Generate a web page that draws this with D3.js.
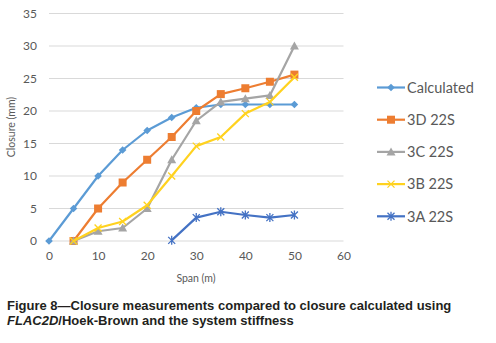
<!DOCTYPE html>
<html>
<head>
<meta charset="utf-8">
<script src="https://cdn.jsdelivr.net/npm/d3@7"></script>
<style>
  body { margin: 0; background: #fff; }
  svg { display: block; }
</style>
</head>
<body>
<div id="chart"></div>
<script>
/* DATA */
const seriesNames = ["Calculated", "3D 22S", "3C 22S", "3B 22S", "3A 22S"];
const calculatedSpan = [0, 5, 10, 15, 20, 25, 30, 35, 40, 45, 50];
const calculatedClosure = [0, 5, 10, 14, 17, 19, 20.5, 21, 21, 21, 21];
const span3D = [5, 10, 15, 20, 25, 30, 35, 40, 45, 50];
const closure3D = [0, 5, 9, 12.5, 16, 20, 22.6, 23.5, 24.5, 25.6];
const span3C = [5, 10, 15, 20, 25, 30, 35, 40, 45, 50];
const closure3C = [0, 1.5, 2, 5, 12.5, 18.5, 21.4, 21.9, 22.4, 30];
const span3B = [5, 10, 15, 20, 25, 30, 35, 40, 45, 50];
const closure3B = [0, 2, 3, 5.5, 10, 14.6, 16, 19.6, 21.4, 25.2];
const span3A = [25, 30, 35, 40, 45, 50];
const closure3A = [0.1, 3.6, 4.5, 4, 3.6, 4];
const xTicks = [0, 10, 20, 30, 40, 50, 60];
const yTicks = [0, 5, 10, 15, 20, 25, 30, 35];

const width = 496, height = 343;
const font = "Lato, 'Open Sans', sans-serif";

const series = [
  { name: seriesNames[0], xs: calculatedSpan, ys: calculatedClosure, color: "#5B9BD5", marker: "diamond" },
  { name: seriesNames[1], xs: span3D, ys: closure3D, color: "#ED7D31", marker: "square" },
  { name: seriesNames[2], xs: span3C, ys: closure3C, color: "#A5A5A5", marker: "triangle" },
  { name: seriesNames[3], xs: span3B, ys: closure3B, color: "#FFD21F", marker: "x" },
  { name: seriesNames[4], xs: span3A, ys: closure3A, color: "#4472C4", marker: "star" }
];

const svg = d3.select("#chart").append("svg")
  .attr("width", width)
  .attr("height", height);

const xScale = d3.scaleLinear().domain([0, 60]).range([49, 343.5]);
const yScale = d3.scaleLinear().domain([0, 35]).range([241, 13.5]);

// gridlines
svg.append("g")
  .selectAll("line")
  .data(yTicks)
  .join("line")
  .attr("x1", xScale(0))
  .attr("x2", xScale(60))
  .attr("y1", d => yScale(d))
  .attr("y2", d => yScale(d))
  .attr("stroke", "#D9D9D9")
  .attr("stroke-width", 1);

// axes (labels only)
const xAxis = d3.axisBottom(xScale).tickValues(xTicks).tickSize(0).tickPadding(10);
const yAxis = d3.axisLeft(yScale).tickValues(yTicks).tickSize(0).tickPadding(12);

const xAxisGroup = svg.append("g")
  .attr("transform", `translate(0,${yScale(0)})`)
  .call(xAxis);
const yAxisGroup = svg.append("g")
  .attr("transform", `translate(${xScale(0)},0)`)
  .call(yAxis);

[xAxisGroup, yAxisGroup].forEach(g => {
  g.select(".domain").remove();
  g.selectAll("text")
    .attr("font-family", font)
    .attr("font-size", 12)
    .attr("fill", "#595959");
});

// axis titles
svg.append("text")
  .attr("x", 196)
  .attr("y", 282)
  .attr("text-anchor", "middle")
  .attr("font-family", font)
  .attr("font-size", 10.5)
  .attr("fill", "#595959")
  .text("Span (m)");

svg.append("text")
  .attr("transform", `translate(15,127) rotate(-90)`)
  .attr("text-anchor", "middle")
  .attr("font-family", font)
  .attr("font-size", 10.5)
  .attr("fill", "#595959")
  .text("Closure (mm)");

// marker drawing
function drawMarker(g, type, color) {
  if (type === "diamond") {
    g.append("path").attr("d", "M0,-3.8L3.8,0L0,3.8L-3.8,0Z").attr("fill", color);
  } else if (type === "square") {
    g.append("rect").attr("x", -4).attr("y", -4).attr("width", 8).attr("height", 8).attr("fill", color);
  } else if (type === "triangle") {
    g.append("path").attr("d", "M0,-4.5L4.5,3.5L-4.5,3.5Z").attr("fill", color);
  } else if (type === "x") {
    g.append("path").attr("d", "M-3.5,-3.5L3.5,3.5M-3.5,3.5L3.5,-3.5")
      .attr("stroke", color).attr("stroke-width", 1.3).attr("fill", "none");
  } else if (type === "star") {
    g.append("path").attr("d", "M-3.5,-3.5L3.5,3.5M-3.5,3.5L3.5,-3.5M0,-4.5L0,4.5")
      .attr("stroke", color).attr("stroke-width", 1.3).attr("fill", "none");
  }
}

const line = d3.line()
  .x(d => xScale(d[0]))
  .y(d => yScale(d[1]));

series.forEach(s => {
  const pts = s.xs.map((x, i) => [x, s.ys[i]]);
  const g = svg.append("g");
  g.append("path")
    .datum(pts)
    .attr("d", line)
    .attr("fill", "none")
    .attr("stroke", s.color)
    .attr("stroke-width", 2.2)
    .attr("stroke-linejoin", "round");
  g.selectAll("g.pt")
    .data(pts)
    .join("g")
    .attr("class", "pt")
    .attr("transform", d => `translate(${xScale(d[0])},${yScale(d[1])})`)
    .each(function () { drawMarker(d3.select(this), s.marker, s.color); });
});

// legend
const legend = svg.append("g");
const legendItems = legend.selectAll("g")
  .data(series)
  .join("g")
  .attr("transform", (d, i) => `translate(377,${87.5 + i * 32.2})`);

legendItems.append("line")
  .attr("x1", 0).attr("x2", 28)
  .attr("stroke", d => d.color)
  .attr("stroke-width", 2.2);

legendItems.append("g")
  .attr("transform", "translate(14,0)")
  .each(function (d) { drawMarker(d3.select(this), d.marker, d.color); });

legendItems.append("text")
  .attr("x", 30)
  .attr("y", 0)
  .attr("dy", "0.36em")
  .attr("font-family", font)
  .attr("font-size", 14.5)
  .attr("fill", "#595959")
  .text(d => d.name);

// caption
const caption = svg.append("text")
  .attr("font-family", "'Liberation Sans', Arial, sans-serif")
  .attr("font-weight", "bold")
  .attr("font-size", 13)
  .attr("fill", "#231F20");
caption.append("tspan")
  .attr("x", 7).attr("y", 310)
  .text("Figure 8\u2014Closure measurements compared to closure calculated using");
const l2 = caption.append("tspan").attr("x", 7).attr("y", 325);
l2.append("tspan").attr("font-style", "italic").text("FLAC2D");
l2.append("tspan").text("/Hoek-Brown and the system stiffness");
</script>
</body>
</html>
